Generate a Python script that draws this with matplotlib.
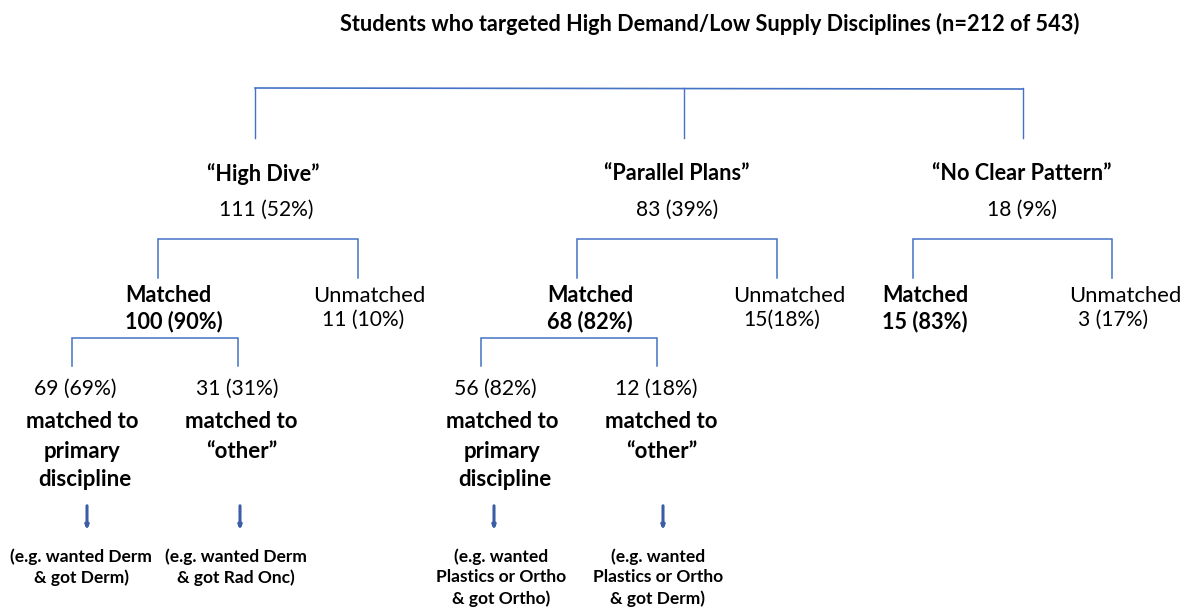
import matplotlib
matplotlib.use("Agg")
import matplotlib.pyplot as plt

plt.rcParams['font.family'] = ['Lato', 'DejaVu Sans']

TITLE = "Students who targeted High Demand/Low Supply Disciplines (n=212 of 543)"

group_names = ["\u201cHigh Dive\u201d", "\u201cParallel Plans\u201d", "\u201cNo Clear Pattern\u201d"]
group_counts = ["111 (52%)", "83 (39%)", "18 (9%)"]
matched_counts = ["100 (90%)", "68 (82%)", "15 (83%)"]
unmatched_counts = ["11 (10%)", "15(18%)", "3 (17%)"]
primary_counts = ["69 (69%)", "56 (82%)"]
other_counts = ["31 (31%)", "12 (18%)"]
primary_examples = ["(e.g. wanted Derm\n& got Derm)", "(e.g. wanted\nPlastics or Ortho\n& got Ortho)"]
other_examples = ["(e.g. wanted Derm\n& got Rad Onc)", "(e.g. wanted\nPlastics or Ortho\n& got Derm)"]

# layout (pixels)
W, H = 1185, 610
BLUE = "#4472c4"
ARROW = "#3a5da6"

fig = plt.figure(figsize=(W / 100, H / 100), dpi=100)
ax = fig.add_axes([0, 0, 1, 1])
ax.set_xlim(0, W)
ax.set_ylim(H, 0)
ax.axis("off")

def bracket(x0, x1, y, yb):
    ax.plot([x0, x0, x1, x1], [yb, y, y, yb], color=BLUE, lw=1.1, solid_joinstyle="miter")

ax.text(710, 24, TITLE, ha="center", va="center", fontsize=15.6, fontweight="bold")

# top bracket
ax.plot([255, 1023], [88, 89], color=BLUE, lw=1.2)
for x in [255, 684, 1023]:
    ax.plot([x, x], [88, 138], color=BLUE, lw=1.0)

g_x = [263, 677, 1022]
for i in range(3):
    ax.text(g_x[i], 174, group_names[i], ha="center", va="center", fontsize=15.6, fontweight="bold")
    ax.text(g_x[i] + 3 if i == 0 else g_x[i], 210, group_counts[i], ha="center", va="center", fontsize=15.1)

# second level brackets
b2 = [(158, 358), (577, 777), (913, 1112)]
for x0, x1 in b2:
    bracket(x0, x1, 239, 278)

m_x = [125, 547, 882]
u_x = [313, 733, 1069]
uc_x = [322, 743, 1078]
for i in range(3):
    ax.text(m_x[i], 295, "Matched", ha="left", va="center", fontsize=15.6, fontweight="bold")
    ax.text(m_x[i], 322, matched_counts[i], ha="left", va="center", fontsize=15.6, fontweight="bold")
    ax.text(u_x[i], 296, "Unmatched", ha="left", va="center", fontsize=15.8)
    ax.text(uc_x[i], 320, unmatched_counts[i], ha="left", va="center", fontsize=15.1)

# third level
b3 = [(72, 238), (481, 657)]
p_x = [75, 495]
pb_x = [82, 502]
o_x = [237, 656]
ob_x = [241, 661]
for i in range(2):
    bracket(b3[i][0], b3[i][1], 338, 366)
    ax.text(p_x[i], 389, primary_counts[i], ha="center", va="center", fontsize=15.2)
    ax.text(pb_x[i], 422, "matched to", ha="center", va="center", fontsize=16, fontweight="bold")
    ax.text(pb_x[i], 451, "primary", ha="center", va="center", fontsize=16, fontweight="bold")
    ax.text(pb_x[i] + 3, 479, "discipline", ha="center", va="center", fontsize=16, fontweight="bold")
    ax.text(o_x[i], 389, other_counts[i], ha="center", va="center", fontsize=15.2)
    ax.text(ob_x[i], 422, "matched to", ha="center", va="center", fontsize=16, fontweight="bold")
    ax.text(ob_x[i] + 1, 451, "\u201cother\u201d", ha="center", va="center", fontsize=16, fontweight="bold")

arrow_x = [87, 240, 494, 663]
for x in arrow_x:
    ax.annotate("", xy=(x, 533), xytext=(x, 503),
                arrowprops=dict(arrowstyle="-|>,head_length=0.22,head_width=0.09", color=ARROW, lw=2.2))

ex_x = [81, 236, 501, 658]
examples = [primary_examples[0], other_examples[0], primary_examples[1], other_examples[1]]
for x, t in zip(ex_x, examples):
    ax.text(x, 548, t, ha="center", va="top", fontsize=12.5, fontweight="bold", linespacing=1.36)

fig.savefig("out.png", dpi=100)
